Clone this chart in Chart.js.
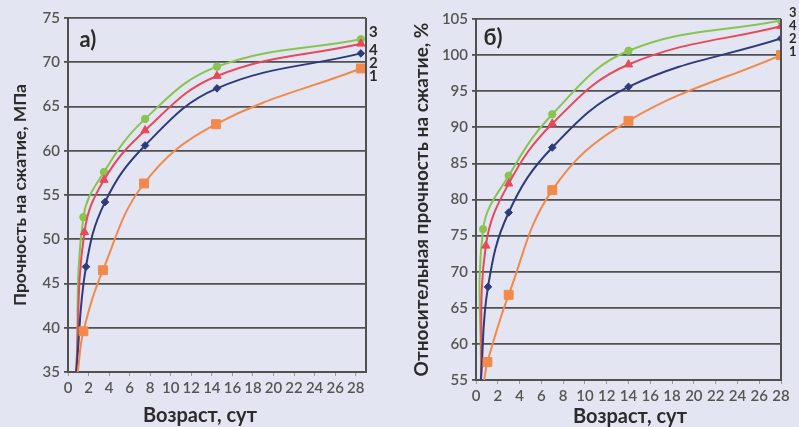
<!DOCTYPE html>
<html lang="ru">
<head>
<meta charset="utf-8">
<title>Прочность на сжатие</title>
<script src="https://cdn.jsdelivr.net/npm/chart.js@4.4.1/dist/chart.umd.min.js"></script>
<style>
  html, body { margin: 0; padding: 0; background: #e3e6f2; }
  #wrap { position: relative; width: 799px; height: 427px; overflow: hidden; }
  #chartA { position: absolute; left: 0; top: 0; }
  #chartB { position: absolute; left: 400px; top: 0; }
</style>
</head>
<body>
<div id="wrap">
  <canvas id="chartA" width="400" height="427"></canvas>
  <canvas id="chartB" width="399" height="427"></canvas>
</div>
<script>
// a) strength, MPa  (age in days read off the plot)
const a1X = [0.95, 1.5, 3.4, 7.4, 14.4, 28.5];
const a1Y = [35, 39.6, 46.5, 56.3, 63.0, 69.3];
const a2X = [0.8, 1.75, 3.6, 7.5, 14.5, 28.5];
const a2Y = [35, 46.9, 54.2, 60.6, 67.05, 71.0];
const a3X = [0.8, 1.5, 3.5, 7.5, 14.5, 28.5];
const a3Y = [35, 52.5, 57.6, 63.6, 69.5, 72.6];
const a4X = [0.8, 1.6, 3.5, 7.5, 14.5, 28.5];
const a4Y = [35, 50.8, 56.7, 62.3, 68.45, 72.1];

// б) relative strength, %
const b1X = [0.75, 1.05, 3, 7, 14, 28];
const b1Y = [55, 57.5, 66.8, 81.3, 90.9, 100.0];
const b2X = [0.45, 1.1, 3, 7, 14, 28];
const b2Y = [55, 67.9, 78.2, 87.2, 95.6, 102.3];
const b3X = [0.45, 0.65, 3, 7, 14, 28];
const b3Y = [55, 75.9, 83.3, 91.8, 100.6, 104.8];
const b4X = [0.45, 0.9, 3, 7, 14, 28];
const b4Y = [55, 73.6, 82.2, 90.5, 98.7, 104.0];

const FONT = 'Lato, "Open Sans", sans-serif';
const GRID = '#505050';
const colors = { '1': '#f2894a', '2': '#2e3a7c', '3': '#88c450', '4': '#e8485a' };
const markers = { '1': ['rect', 6.3], '2': ['rectRot', 3.8], '3': ['circle', 3.7], '4': ['triangle', 4.8] };

function series(name, xs, ys) {
    const c = colors[name];
    const m = markers[name];
    return {
        label: name,
        data: xs.map((x, i) => ({ x: x, y: ys[i] })),
        borderColor: c,
        backgroundColor: c,
        borderWidth: 2,
        pointStyle: m[0],
        pointRadius: xs.map((x, i) => i === 0 ? 0 : m[1]),
        pointBorderWidth: 1,
        tension: 0.4
    };
}

// frame on the right, panel letter, curve numbers, x title
const notes = {
    id: 'notes',
    afterDraw(chart, args, opts) {
        const { ctx, chartArea, scales } = chart;
        ctx.save();
        ctx.strokeStyle = GRID;
        ctx.lineWidth = 2;
        ctx.beginPath();
        ctx.moveTo(chartArea.right, chartArea.top);
        ctx.lineTo(chartArea.right, chartArea.bottom);
        ctx.stroke();

        ctx.fillStyle = '#2b2b2b';
        ctx.textBaseline = 'middle';
        ctx.textAlign = 'center';
        ctx.font = 'bold 22px ' + FONT;
        ctx.fillText(opts.letter, chartArea.left + opts.letterDx, chartArea.top + opts.letterDy);

        ctx.font = 'bold ' + opts.tagSize + 'px ' + FONT;
        ctx.textAlign = 'left';
        opts.tags.forEach(t => {
            ctx.fillText(t.text, chartArea.right + opts.tagDx, scales.y.getPixelForValue(t.y));
        });

        ctx.font = 'bold 20px ' + FONT;
        ctx.textAlign = 'center';
        ctx.fillText('Возраст, сут', opts.titleX, opts.titleY);
        ctx.restore();
    }
};

function makeChart(id, sets, yMin, yMax, xMax, yTitle, yTitleSize, yWidth, area, noteOpts) {
    return new Chart(document.getElementById(id), {
        type: 'line',
        data: { datasets: sets },
        plugins: [notes],
        options: {
            responsive: false,
            animation: false,
            devicePixelRatio: 1,
            layout: { padding: { top: area.top, right: area.right, bottom: 0, left: 0 } },
            scales: {
                x: {
                    type: 'linear',
                    min: 0,
                    max: xMax,
                    afterFit: s => { s.height = area.xHeight; },
                    ticks: {
                        stepSize: 2,
                        includeBounds: false,
                        autoSkip: false,
                        maxRotation: 0,
                        padding: 3,
                        color: '#555',
                        font: { family: FONT, size: 15, weight: '600' }
                    },
                    grid: { drawOnChartArea: false, drawTicks: true, tickLength: 4, tickColor: '#999' },
                    border: { display: true, color: GRID, width: 2 }
                },
                y: {
                    min: yMin,
                    max: yMax,
                    afterFit: s => { s.width = yWidth; },
                    ticks: {
                        stepSize: 5,
                        padding: 4,
                        color: '#555',
                        font: { family: FONT, size: 15, weight: '600' }
                    },
                    grid: { color: GRID, lineWidth: 1.8, drawTicks: true, tickLength: 4 },
                    border: { display: true, color: GRID, width: 2 },
                    title: {
                        display: true,
                        text: yTitle,
                        color: '#2b2b2b',
                        padding: { top: 10, bottom: 0 },
                        font: { family: FONT, size: yTitleSize, weight: 'bold' }
                    }
                }
            },
            plugins: {
                legend: { display: false },
                tooltip: { enabled: false },
                notes: noteOpts
            }
        }
    });
}

makeChart('chartA', [
    series('1', a1X, a1Y), series('2', a2X, a2Y), series('4', a4X, a4Y), series('3', a3X, a3Y)
], 35, 75, 29, 'Прочность на сжатие, МПа', 17.5, 68,
{ top: 18, right: 34, xHeight: 55 },
{
    letter: 'а)', letterDx: 20, letterDy: 22, tagDx: 3, tagSize: 15,
    tags: [{ text: '3', y: 73.45 }, { text: '4', y: 71.4 }, { text: '2', y: 69.9 }, { text: '1', y: 68.4 }],
    titleX: 200, titleY: 416
});

makeChart('chartB', [
    series('1', b1X, b1Y), series('2', b2X, b2Y), series('4', b4X, b4Y), series('3', b3X, b3Y)
], 55, 105, 28, 'Относительная прочность на сжатие, %', 19, 76,
{ top: 19, right: 18, xHeight: 47 },
{
    letter: 'б)', letterDx: 17, letterDy: 19, tagDx: 8, tagSize: 13,
    tags: [{ text: '3', y: 105.8 }, { text: '4', y: 104.0 }, { text: '2', y: 102.2 }, { text: '1', y: 100.4 }],
    titleX: 230, titleY: 417
});
</script>
</body>
</html>
